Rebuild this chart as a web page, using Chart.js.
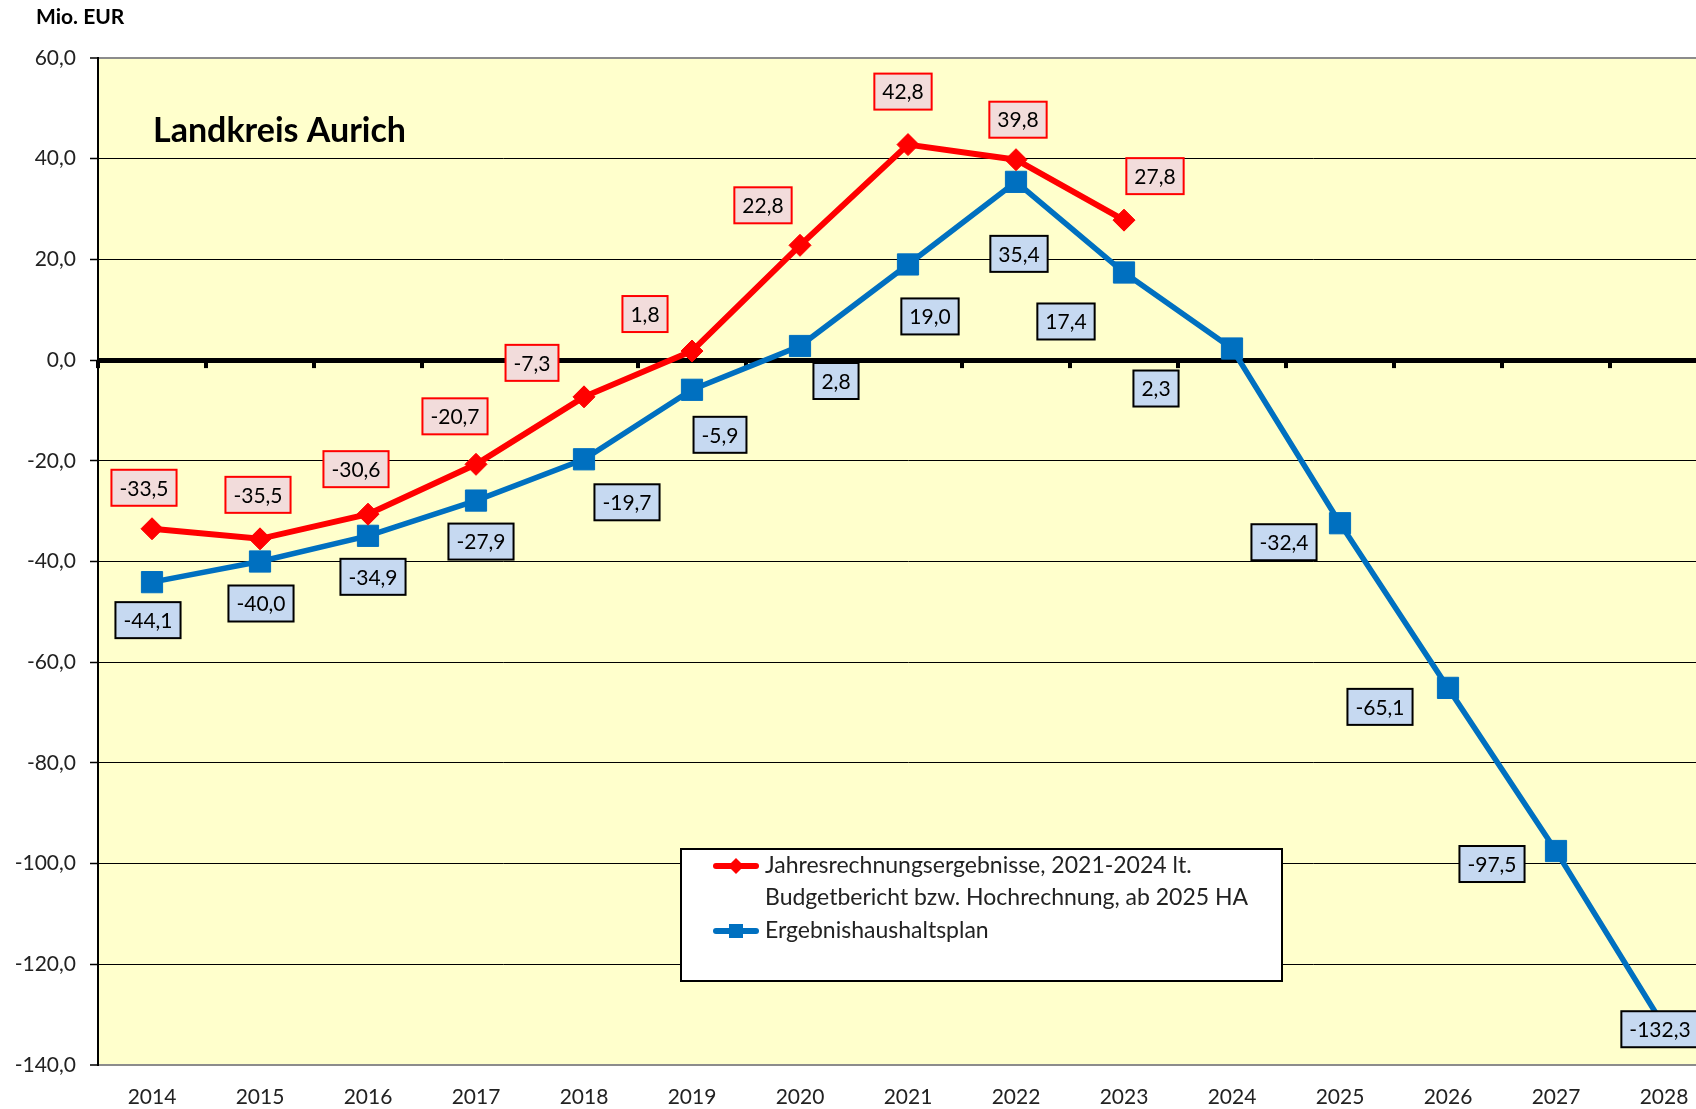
<!DOCTYPE html>
<html>
<head>
<meta charset="utf-8">
<title>Landkreis Aurich</title>
<script src="https://cdn.jsdelivr.net/npm/chart.js@4.4.1/dist/chart.umd.min.js"></script>
<style>
  html, body { margin: 0; padding: 0; background: #fff; overflow: hidden; }
  canvas { display: block; }
</style>
</head>
<body>
<canvas id="myChart" width="1734" height="1109"></canvas>
<script>
// data
const years = ['2014', '2015', '2016', '2017', '2018', '2019', '2020', '2021', '2022', '2023', '2024', '2025', '2026', '2027', '2028'];
const jahresrechnung = [-33.5, -35.5, -30.6, -20.7, -7.3, 1.8, 22.8, 42.8, 39.8, 27.8, null, null, null, null, null];
const haushaltsplan = [-44.1, -40.0, -34.9, -27.9, -19.7, -5.9, 2.8, 19.0, 35.4, 17.4, 2.3, -32.4, -65.1, -97.5, -132.3];
const yMin = -140;
const yMax = 60;
const yStep = 20;

// where Excel put the value boxes, relative to the point (px)
const redLabelShift = [[-8, -41], [-2, -44], [-12, -45], [-21, -48], [-52, -34], [-47, -37], [-37, -40], [-5, -53], [2, -40], [31, -44]];
const blueLabelShift = [[-4, 38], [1, 42], [5, 41], [5, 41], [43, 43], [28, 45], [36, 35], [22, 52], [3, 72], [-58, 49], [-76, 40], [-56, 19], [-68, 19], [-64, 13], [-4, 3]];

const FONT = 'Lato, "Open Sans", sans-serif';
const RED = '#ff0000';
const BLUE = '#0070c0';

const fmt = v => v.toFixed(1).replace('.', ',');

// yellow plot area + title
const plotBackground = {
  id: 'plotBackground',
  beforeDraw(chart) {
    const { ctx, chartArea: a } = chart;
    ctx.save();
    ctx.fillStyle = '#ffffcc';
    ctx.fillRect(a.left, a.top, a.right - a.left, a.bottom - a.top);
    ctx.restore();
  },
  beforeDatasetsDraw(chart) {
    const { ctx } = chart;
    ctx.save();
    ctx.fillStyle = '#000';
    ctx.textBaseline = 'middle';
    ctx.font = 'bold 34px ' + FONT;
    ctx.fillText('Landkreis Aurich', 153, 131);
    ctx.font = 'bold 21px ' + FONT;
    ctx.fillText('Mio. EUR', 36, 17);

    // little ticks hanging below the zero line
    const x = chart.scales.x, y = chart.scales.y;
    const y0 = y.getPixelForValue(0);
    const step = x.getPixelForValue(1) - x.getPixelForValue(0);
    ctx.fillStyle = '#000';
    for (let i = 0; i <= years.length; i++) {
      const px = chart.chartArea.left + i * step;
      ctx.fillRect(px - 2, y0, 4, 8);
    }
    ctx.restore();
  }
};

// value boxes
function drawBoxes(chart, dsIndex, shifts, fill, stroke) {
  const { ctx } = chart;
  const meta = chart.getDatasetMeta(dsIndex);
  const values = chart.data.datasets[dsIndex].data;
  ctx.font = '21px ' + FONT;
  ctx.textAlign = 'center';
  ctx.textBaseline = 'middle';
  meta.data.forEach((pt, i) => {
    if (values[i] === null || values[i] === undefined) return;
    const txt = fmt(values[i]);
    const w = ctx.measureText(txt).width + 16;
    const h = 36;
    const cx = pt.x + shifts[i][0];
    const cy = pt.y + shifts[i][1];
    ctx.fillStyle = fill;
    ctx.fillRect(cx - w / 2, cy - h / 2, w, h);
    ctx.lineWidth = 2;
    ctx.strokeStyle = stroke;
    ctx.strokeRect(cx - w / 2, cy - h / 2, w, h);
    ctx.fillStyle = '#000';
    ctx.fillText(txt, cx, cy + 1);
  });
}

const valueBoxes = {
  id: 'valueBoxes',
  afterDatasetsDraw(chart) {
    const { ctx } = chart;
    ctx.save();
    drawBoxes(chart, 0, redLabelShift, '#f2dcdb', RED);
    drawBoxes(chart, 1, blueLabelShift, '#c6d9f1', '#000');
    ctx.restore();
  }
};

// legend box inside the plot, Excel style
const boxLegend = {
  id: 'boxLegend',
  afterDatasetsDraw(chart) {
    const { ctx } = chart;
    ctx.save();
    ctx.fillStyle = '#fff';
    ctx.fillRect(681, 849, 601, 132);
    ctx.lineWidth = 2;
    ctx.strokeStyle = '#000';
    ctx.strokeRect(681, 849, 601, 132);

    // red entry
    ctx.strokeStyle = RED;
    ctx.lineWidth = 6;
    ctx.lineCap = 'round';
    ctx.beginPath(); ctx.moveTo(716, 866); ctx.lineTo(756, 866); ctx.stroke();
    ctx.fillStyle = RED;
    ctx.beginPath();
    ctx.moveTo(736, 858); ctx.lineTo(744, 866); ctx.lineTo(736, 874); ctx.lineTo(728, 866);
    ctx.closePath(); ctx.fill();

    // blue entry
    ctx.strokeStyle = BLUE;
    ctx.beginPath(); ctx.moveTo(716, 931); ctx.lineTo(756, 931); ctx.stroke();
    ctx.fillStyle = BLUE;
    ctx.fillRect(729, 924, 14, 14);

    ctx.fillStyle = '#222';
    ctx.font = '23px ' + FONT;
    ctx.textBaseline = 'middle';
    ctx.fillText('Jahresrechnungsergebnisse, 2021-2024 lt.', 765, 866);
    ctx.fillText('Budgetbericht bzw. Hochrechnung, ab 2025 HA', 765, 898);
    ctx.fillText('Ergebnishaushaltsplan', 765, 931);
    ctx.restore();
  }
};

const config = {
  type: 'line',
  data: {
    labels: years,
    datasets: [{
      label: 'Jahresrechnungsergebnisse, 2021-2024 lt. Budgetbericht bzw. Hochrechnung, ab 2025 HA',
      data: jahresrechnung,
      borderColor: RED,
      backgroundColor: RED,
      borderWidth: 6,
      pointStyle: 'rectRot',
      pointRadius: 11,
      pointBorderWidth: 1,
      tension: 0
    }, {
      label: 'Ergebnishaushaltsplan',
      data: haushaltsplan,
      borderColor: BLUE,
      backgroundColor: BLUE,
      borderWidth: 5.5,
      pointStyle: 'rect',
      pointRadius: 15,
      pointBorderWidth: 1,
      tension: 0
    }]
  },
  options: {
    responsive: false,
    animation: false,
    layout: { padding: { top: 58, right: 3, left: 0, bottom: 0 } },
    plugins: {
      legend: { display: false },
      tooltip: { enabled: false }
    },
    scales: {
      x: {
        offset: true,
        grid: { display: false, drawTicks: false },
        border: { display: true, color: '#8c8c8c', width: 2 },
        ticks: {
          font: { family: FONT, size: 21 },
          color: '#222',
          padding: 20,
          maxRotation: 0,
          autoSkip: false
        },
        afterFit(scale) { scale.height = 44; }
      },
      y: {
        min: yMin,
        max: yMax,
        ticks: {
          stepSize: yStep,
          font: { family: FONT, size: 21 },
          color: '#222',
          padding: 14,
          callback: v => fmt(v)
        },
        grid: {
          color: ctx => (ctx.tick && (ctx.tick.value === yMax || ctx.tick.value === yMin)) ? '#8c8c8c' : '#000',
          lineWidth: ctx => {
            if (!ctx.tick) return 1;
            if (ctx.tick.value === 0) return 5;
            if (ctx.tick.value === yMax || ctx.tick.value === yMin) return 2;
            return 1;
          },
          tickLength: 8,
          tickColor: '#000',
          tickWidth: 1.5
        },
        border: { display: true, color: '#000', width: 2 },
        afterFit(scale) { scale.width = 98; }
      }
    }
  },
  plugins: [plotBackground, valueBoxes, boxLegend]
};

const myChart = new Chart(document.getElementById('myChart'), config);
</script>
</body>
</html>
